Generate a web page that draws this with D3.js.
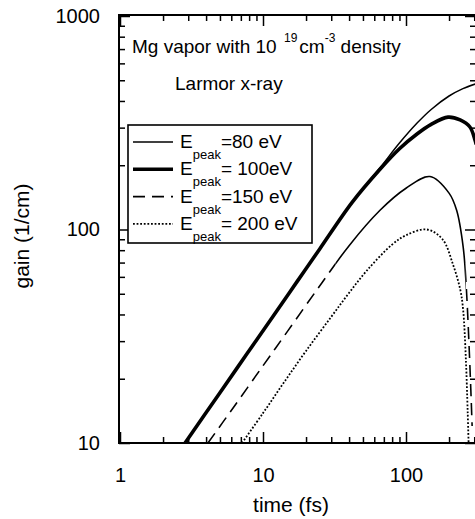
<!DOCTYPE html>
<html><head><meta charset="utf-8">
<script src="https://cdn.jsdelivr.net/npm/d3@7"></script>
<style>
html,body{margin:0;padding:0;background:#fff;}
svg{display:block;font-family:"Liberation Sans",Arial,Helvetica,sans-serif;}
</style></head>
<body><svg id="c" width="475" height="519"></svg>
<script>
// ---- data ----
const xMajorTicks = [1, 10, 100];
const xMinorTicks = [2,3,4,5,6,7,8,9,20,30,40,50,60,70,80,90,200,300];
const yMajorTicks = [10, 100, 1000];
const yMinorTicks = [20,30,40,50,60,70,80,90,200,300,400,500,600,700,800,900];

const legendLabels = ["=80 eV", "= 100eV", "=150 eV", "= 200 eV"];

const time80 = [2.85, 5, 7.7, 12, 17.3, 25, 42, 66, 90, 120, 150, 200, 250, 310];
const gain80 = [10, 17.2, 26.1, 40, 57, 81.3, 134, 195, 254, 316, 365, 422, 457, 482];

const time100 = [2.85, 5, 7.7, 12, 17.3, 25, 42, 66, 90, 120, 150, 197, 239, 280, 304, 310];
const gain100 = [10, 17.2, 26.1, 40, 57, 81.3, 134, 192, 239, 281, 311, 336, 326, 302, 262, 250];

const time150 = [4.12, 6, 10, 15, 25.7, 40, 65.8, 100, 147, 200, 226, 251, 263, 280, 290];
const gain150 = [10, 14.2, 23, 33.7, 56, 84, 123, 156, 177, 148, 123, 83, 56, 22.7, 12];

const time200 = [7.13, 10, 14, 20, 30, 40, 53, 80, 100, 140, 180, 214, 240, 251, 262, 270, 274];
const gain200 = [10, 13.8, 19.2, 27, 39, 50.5, 64, 85, 94, 100, 90, 68, 52, 42, 25, 14, 10];

// ---- layout ----
const L = 119, R = 476, T = 15, B = 443;
const svg = d3.select("#c");
const x = d3.scaleLog().domain([1, 310]).range([120, 120 + 143 * Math.log10(310)]);
const y = d3.scaleLog().domain([10, 1000]).range([B, B - 2 * 213.5]);

// frame
svg.append("rect").attr("x", L).attr("y", T).attr("width", R - L).attr("height", B - T)
  .attr("fill", "none").attr("stroke", "#000").attr("stroke-width", 2);

function styleAxis(g, fs) {
  g.select(".domain").remove();
  g.selectAll(".tick line").attr("stroke", "#000").attr("stroke-width", 1.5);
  g.selectAll("text").attr("font-size", fs).attr("fill", "#000")
    .attr("font-family", '"Liberation Sans",Arial,sans-serif');
}
// bottom
svg.append("g").attr("transform", `translate(0,${B})`)
  .call(d3.axisBottom(x).tickValues(xMajorTicks).tickSize(-11).tickPadding(25)
    .tickFormat(d3.format("d")))
  .call(g => styleAxis(g, 20));
svg.append("g").attr("transform", `translate(0,${B})`)
  .call(d3.axisBottom(x).tickValues(xMinorTicks).tickSize(-6).tickFormat(""))
  .call(g => styleAxis(g, 20));
// top
svg.append("g").attr("transform", `translate(0,${T})`)
  .call(d3.axisTop(x).tickValues(xMajorTicks).tickSize(-11).tickFormat(""))
  .call(g => styleAxis(g, 20));
svg.append("g").attr("transform", `translate(0,${T})`)
  .call(d3.axisTop(x).tickValues(xMinorTicks).tickSize(-6).tickFormat(""))
  .call(g => styleAxis(g, 20));
// left
svg.append("g").attr("transform", `translate(${L},0)`)
  .call(d3.axisLeft(y).tickValues(yMajorTicks).tickSize(-11).tickPadding(19)
    .tickFormat(d3.format("d")))
  .call(g => styleAxis(g, 20));
svg.append("g").attr("transform", `translate(${L},0)`)
  .call(d3.axisLeft(y).tickValues(yMinorTicks).tickSize(-6).tickFormat(""))
  .call(g => styleAxis(g, 20));
// right
svg.append("g").attr("transform", `translate(${R},0)`)
  .call(d3.axisRight(y).tickValues(yMajorTicks).tickSize(-11).tickFormat(""))
  .call(g => styleAxis(g, 20));
svg.append("g").attr("transform", `translate(${R},0)`)
  .call(d3.axisRight(y).tickValues(yMinorTicks).tickSize(-6).tickFormat(""))
  .call(g => styleAxis(g, 20));

// axis titles
svg.append("text").attr("x", 291).attr("y", 512).attr("text-anchor", "middle")
  .attr("font-size", 21).text("time (fs)");
svg.append("text").attr("transform", "translate(29,236) rotate(-90)").attr("text-anchor", "middle")
  .attr("font-size", 21).text("gain (1/cm)");

// clip
const defs = svg.append("defs");
defs.append("clipPath").attr("id", "plot").append("rect")
  .attr("x", L).attr("y", T).attr("width", R - L).attr("height", B - T + 1);
defs.append("clipPath").attr("id", "solidPart").append("rect")
  .attr("x", x(32)).attr("y", T).attr("width", x(262) - x(32)).attr("height", B - T + 1);
const dp = defs.append("clipPath").attr("id", "dashPart");
dp.append("rect").attr("x", L).attr("y", T).attr("width", x(32) - L).attr("height", B - T + 1);
dp.append("rect").attr("x", x(262)).attr("y", T).attr("width", R - x(262)).attr("height", B - T + 1);

const line = d3.line().x(d => x(d[0])).y(d => y(d[1])).curve(d3.curveCatmullRom.alpha(0.5));
const zip = (a, b) => a.map((v, i) => [v, b[i]]);

const plot = svg.append("g").attr("clip-path", "url(#plot)");
plot.append("path").attr("d", line(zip(time80, gain80))).attr("fill", "none")
  .attr("stroke", "#000").attr("stroke-width", 1.5);
plot.append("path").attr("d", line(zip(time100, gain100))).attr("fill", "none")
  .attr("stroke", "#000").attr("stroke-width", 3.6);
plot.append("g").attr("clip-path", "url(#dashPart)").append("path")
  .attr("d", line(zip(time150, gain150))).attr("fill", "none")
  .attr("stroke", "#000").attr("stroke-width", 1.6).attr("stroke-dasharray", "12,7");
plot.append("g").attr("clip-path", "url(#solidPart)").append("path")
  .attr("d", line(zip(time150, gain150))).attr("fill", "none")
  .attr("stroke", "#000").attr("stroke-width", 1.6);
plot.append("path").attr("d", line(zip(time200, gain200))).attr("fill", "none")
  .attr("stroke", "#000").attr("stroke-width", 1.8).attr("stroke-dasharray", "1.8,1.8");

// annotations
const title = svg.append("text").attr("x", 132).attr("y", 53).attr("font-size", 19);
title.append("tspan").text("Mg vapor with 10 ");
title.append("tspan").attr("font-size", 12).attr("dy", -11).attr("dx", 2).text("19");
title.append("tspan").attr("dy", 11).attr("dx", 2).text("cm");
title.append("tspan").attr("font-size", 12).attr("dy", -11).text("-3");
title.append("tspan").attr("dy", 11).text(" density");

svg.append("text").attr("x", 175).attr("y", 90).attr("font-size", 19).text("Larmor x-ray");

// legend
svg.append("rect").attr("x", 128).attr("y", 125).attr("width", 184).attr("height", 118)
  .attr("fill", "#fff").attr("stroke", "#000").attr("stroke-width", 1.6);
const legStyles = [
  {w: 1.5, dash: null},
  {w: 3.6, dash: null},
  {w: 1.6, dash: "12,7"},
  {w: 1.8, dash: "1.8,1.8"}
];
legendLabels.forEach((lab, i) => {
  const yy = 148 + i * 27.3;
  const s = legStyles[i];
  const ln = svg.append("line").attr("x1", 133).attr("x2", 173).attr("y1", yy - 6).attr("y2", yy - 6)
    .attr("stroke", "#000").attr("stroke-width", s.w);
  if (s.dash) ln.attr("stroke-dasharray", s.dash);
  const t = svg.append("text").attr("x", 180).attr("y", yy).attr("font-size", 19);
  t.append("tspan").text("E");
  t.append("tspan").attr("font-size", 13).attr("dy", 11).text("peak");
  t.append("tspan").attr("dy", -11).text(lab);
});
</script></body></html>
